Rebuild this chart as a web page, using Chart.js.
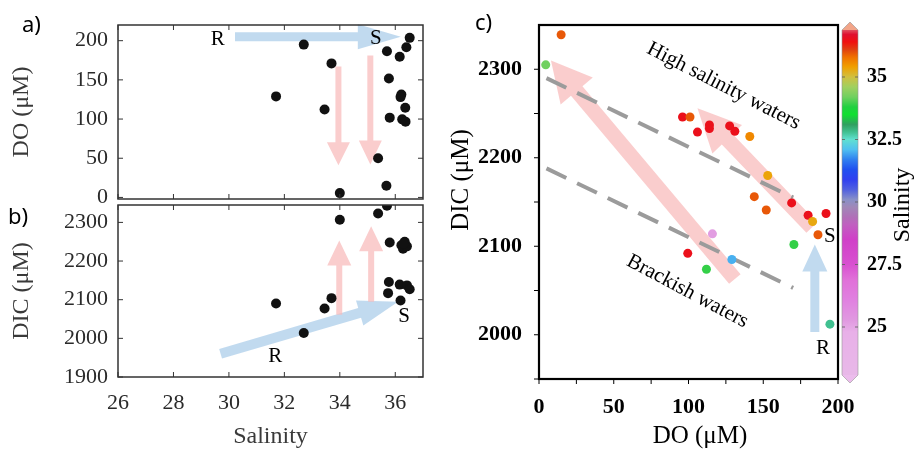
<!DOCTYPE html>
<html><head><meta charset="utf-8">
<script src="https://cdn.jsdelivr.net/npm/chart.js@4.4.1/dist/chart.umd.min.js"></script>
<style>
html,body{margin:0;padding:0;background:#fff;}
#wrap{position:relative;width:916px;height:449px;overflow:hidden;background:#fff;}
canvas{position:absolute;left:0;top:0;}
.lbl{position:absolute;font-family:"Noto Sans",sans-serif;font-size:22px;line-height:22px;color:#000;}
</style></head><body>
<div id="wrap">
<canvas id="ca" width="916" height="449"></canvas>
<canvas id="cb" width="916" height="449"></canvas>
<canvas id="cc" width="916" height="449"></canvas>
<canvas id="cbar" width="916" height="449"></canvas>
<div class="lbl" style="left:22px;top:12px;">a)</div>
<div class="lbl" style="left:8px;top:204px;">b)</div>
<div class="lbl" style="left:475px;top:10px;">c)</div>
</div>
<script>
// ---------- data ----------
// panel a: salinity vs DO
const salA = [31.7, 32.7, 33.7, 33.45, 34.0, 35.38, 35.68, 35.7, 35.77, 35.8, 36.16, 36.4, 36.52, 36.22, 36.19, 36.36, 36.25, 36.37];
const doA  = [128.9, 195, 171, 112.3, 5.5, 50, 14.8, 186.5, 151.8, 101.8, 179.4, 191.6, 203.6, 131.4, 128, 114.5, 99.6, 96.7];
// panel b: salinity vs DIC
const salB = [31.7, 32.7, 33.45, 33.7, 34.0, 35.38, 35.7, 35.8, 36.22, 36.34, 36.28, 36.42, 36.3, 35.77, 36.16, 36.42, 36.52, 35.74, 36.19];
const dicB = [2090, 2014, 2077, 2104, 2307, 2323, 2343, 2248, 2241, 2250, 2232, 2238, 2245, 2146, 2139, 2137, 2127, 2117, 2098];
// panel c: DO vs DIC coloured by salinity
const doC  = [14.8, 4.5, 96, 101, 106, 114, 114, 127.5, 131, 141, 153, 144, 152, 169, 180, 183, 192, 186.6, 116, 99.5, 129, 112, 170.5, 194.6];
const dicC = [2339, 2305, 2246, 2246, 2229, 2237, 2233, 2236, 2230, 2224, 2180, 2156, 2141, 2149, 2135, 2128, 2137, 2113, 2114, 2092, 2085, 2074, 2102, 2012];
const salC = [35.95, 34.2, 36.5, 35.95, 36.5, 36.5, 36.5, 36.5, 36.5, 35.6, 35.35, 35.95, 35.95, 36.5, 36.5, 35.3, 36.5, 35.95, 25.2, 36.5, 32.0, 33.9, 33.9, 32.8];
// mixing lines in panel c
const upperLineDO = [5, 170];
const upperLineDIC = [2290, 2155];
const lowerLineDO = [5, 170];
const lowerLineDIC = [2188, 2053];
// tick labels
const xTicksAB = [26, 28, 30, 32, 34, 36];
const yTicksA = [0, 50, 100, 150, 200];
const yTicksB = [1900, 2000, 2100, 2200, 2300];
const xTicksC = [0, 50, 100, 150, 200];
const yTicksC = [2000, 2100, 2200, 2300];
const xMinorC = [25, 75, 125, 175];
const yMinorC = [1950, 2050, 2150, 2250];
const cbTicks = [25, 27.5, 30, 32.5, 35];
// colour bar
const cbMin = 23.08, cbMax = 36.88;
const cmapVals = [23.08, 24.8, 25.3, 26.1, 26.9, 27.5, 28.5, 29.1, 29.4, 29.8, 30.1, 30.5, 30.9, 31.3, 31.7, 32.1, 32.5, 32.8, 33.1, 33.5, 33.8, 34.2, 34.6, 35.0, 35.4, 35.8, 36.1, 36.4, 36.7, 36.88];
const cmapCols = ['#e8b8e8','#e8b0e8','#e098e0','#e080e0','#e070d8','#d850d0','#d040c8','#c060c0','#b070b8','#a088b8','#8890c8','#5060e0','#3040f0','#2050f0','#3080f0','#50c0f0','#60e0d0','#40c090','#30a060','#10e030','#20d040','#70d060','#a0d060','#d0c040','#f0a000','#f07000','#e04010','#f01010','#e01030','#e05060'];

// ---------- helpers ----------
function hex2rgb(h){return [parseInt(h.slice(1,3),16),parseInt(h.slice(3,5),16),parseInt(h.slice(5,7),16)];}
function cmap(v){
  if (v <= cmapVals[0]) return cmapCols[0];
  for (let i = 1; i < cmapVals.length; i++) {
    if (v <= cmapVals[i]) {
      const t = (v - cmapVals[i-1]) / (cmapVals[i] - cmapVals[i-1]);
      const a = hex2rgb(cmapCols[i-1]), b = hex2rgb(cmapCols[i]);
      return 'rgb(' + a.map((c,k)=>Math.round(c + (b[k]-c)*t)).join(',') + ')';
    }
  }
  return cmapCols[cmapCols.length-1];
}
const SERIF = '"Liberation Serif", "Times New Roman", serif';
const PINK = 'rgba(248,186,186,0.72)';
const BLUE = 'rgba(190,216,238,0.95)';

function drawArrow(ctx, x1, y1, x2, y2, shaft, headW, headL, color){
  const ang = Math.atan2(y2-y1, x2-x1), len = Math.hypot(x2-x1, y2-y1);
  ctx.save(); ctx.translate(x1, y1); ctx.rotate(ang); ctx.fillStyle = color;
  ctx.beginPath();
  ctx.moveTo(0, -shaft/2); ctx.lineTo(len-headL, -shaft/2); ctx.lineTo(len-headL, -headW/2);
  ctx.lineTo(len, 0); ctx.lineTo(len-headL, headW/2); ctx.lineTo(len-headL, shaft/2); ctx.lineTo(0, shaft/2);
  ctx.closePath(); ctx.fill(); ctx.restore();
}

const arrowPlugin = {
  id: 'arrows',
  beforeDatasetsDraw(chart, args, opts){
    const {ctx, scales} = chart;
    (opts.items || []).forEach(a => {
      drawArrow(ctx, scales.x.getPixelForValue(a.from[0]), scales.y.getPixelForValue(a.from[1]),
        scales.x.getPixelForValue(a.to[0]), scales.y.getPixelForValue(a.to[1]), a.shaft, a.headW, a.headL, a.color);
    });
  }
};

const notePlugin = {
  id: 'notes',
  afterDraw(chart, args, opts){
    const {ctx, scales, chartArea} = chart;
    (opts.items || []).forEach(it => {
      let x, y;
      if (it.dx !== undefined) { x = scales.x.getPixelForValue(it.dx); y = scales.y.getPixelForValue(it.dy); }
      else { x = chartArea.left + it.ox; y = chartArea.top + it.oy; }
      ctx.save(); ctx.translate(x, y); ctx.rotate((it.rot || 0) * Math.PI/180);
      ctx.font = it.font || ('21px ' + SERIF); ctx.fillStyle = it.color || '#000';
      ctx.textAlign = 'center'; ctx.textBaseline = 'middle';
      ctx.fillText(it.text, 0, 0); ctx.restore();
    });
  }
};

const framePlugin = {
  id: 'frame',
  afterDatasetsDraw(chart, args, o){
    const {ctx, chartArea: {left, right, top, bottom}, scales} = chart;
    ctx.save();
    ctx.strokeStyle = o.color; ctx.lineWidth = o.width;
    ctx.strokeRect(left, top, right-left, bottom-top);
    ctx.lineWidth = o.tickWidth || 1;
    ctx.beginPath();
    const L = o.tickLen;
    (o.xt || []).forEach(v => {
      const x = scales.x.getPixelForValue(v);
      if (o.inward) { ctx.moveTo(x, bottom); ctx.lineTo(x, bottom-L); ctx.moveTo(x, top); ctx.lineTo(x, top+L); }
      else { ctx.moveTo(x, bottom); ctx.lineTo(x, bottom+L); }
    });
    (o.yt || []).forEach(v => {
      const y = scales.y.getPixelForValue(v);
      if (o.inward) { ctx.moveTo(left, y); ctx.lineTo(left+L, y); ctx.moveTo(right, y); ctx.lineTo(right-L, y); }
      else { ctx.moveTo(left, y); ctx.lineTo(left-L, y); }
    });
    ctx.stroke(); ctx.restore();
  }
};

function fixedTicks(vals){ return s => { s.ticks = vals.map(v => ({value: v})); }; }
function fixW(w){ return s => { s.width = w; s.paddingTop = 0; s.paddingBottom = 0; }; }
function fixH(h){ return s => { s.height = h; s.paddingLeft = 0; s.paddingRight = 0; }; }
const baseOpts = {responsive: false, animation: false, events: []};

// ---------- panel a ----------
new Chart(document.getElementById('ca'), {
  type: 'scatter',
  data: {datasets: [{data: salA.map((s,i)=>({x: s, y: doA[i]})), pointRadius: 5, pointBackgroundColor: '#111', pointBorderWidth: 0}]},
  options: Object.assign({}, baseOpts, {
    layout: {padding: {left: 0, top: 25, right: 493, bottom: 250}},
    plugins: {
      legend: {display: false}, tooltip: {enabled: false},
      frame: {color: '#333', width: 1.5, tickLen: 5, inward: true, xt: xTicksAB, yt: yTicksA},
      arrows: {items: [
        {from: [30.22, 205], to: [36.2, 205], shaft: 9, headW: 25, headL: 43, color: BLUE},
        {from: [33.95, 167], to: [33.95, 41], shaft: 6, headW: 23, headL: 23, color: PINK},
        {from: [35.1, 181], to: [35.1, 42], shaft: 6, headW: 23, headL: 24, color: PINK}
      ]},
      notes: {items: [
        {text: 'R', dx: 29.6, dy: 202},
        {text: 'S', dx: 35.3, dy: 202.7}
      ]}
    },
    scales: {
      x: {type: 'linear', min: 26, max: 37, display: false},
      y: {type: 'linear', min: -2, max: 220, afterFit: fixW(118), afterBuildTicks: fixedTicks(yTicksA),
          ticks: {font: {family: SERIF, size: 22}, color: '#2a2a2a', padding: 10, callback: v => String(v)},
          grid: {display: false, drawTicks: false}, border: {display: false},
          title: {display: true, text: 'DO (μM)', font: {family: SERIF, size: 24, lineHeight: 1}, color: '#3a3a3a', padding: {top: 10, bottom: 0}}}
    }
  }),
  plugins: [arrowPlugin, framePlugin, notePlugin]
});

// ---------- panel b ----------
new Chart(document.getElementById('cb'), {
  type: 'scatter',
  data: {datasets: [{data: salB.map((s,i)=>({x: s, y: dicB[i]})), pointRadius: 5, pointBackgroundColor: '#111', pointBorderWidth: 0}]},
  options: Object.assign({}, baseOpts, {
    layout: {padding: {left: 0, top: 205, right: 493, bottom: 0}},
    plugins: {
      legend: {display: false}, tooltip: {enabled: false},
      frame: {color: '#333', width: 1.5, tickLen: 5, inward: true, xt: xTicksAB, yt: yTicksB},
      arrows: {items: [
        {from: [29.7, 1960], to: [36.1, 2095], shaft: 10, headW: 26, headL: 40, color: BLUE},
        {from: [33.98, 2061], to: [33.98, 2253], shaft: 6, headW: 24, headL: 25, color: PINK},
        {from: [35.13, 2095], to: [35.13, 2290], shaft: 6, headW: 24, headL: 25, color: PINK}
      ]},
      notes: {items: [
        {text: 'R', dx: 31.67, dy: 1952},
        {text: 'S', dx: 36.32, dy: 2056}
      ]}
    },
    scales: {
      x: {type: 'linear', min: 26, max: 37, afterFit: fixH(72), afterBuildTicks: fixedTicks(xTicksAB),
          ticks: {font: {family: SERIF, size: 22}, color: '#2a2a2a', padding: 13, maxRotation: 0, autoSkip: false, callback: v => String(v)},
          grid: {display: false, drawTicks: false}, border: {display: false},
          title: {display: true, text: 'Salinity', font: {family: SERIF, size: 24, lineHeight: 1}, color: '#3a3a3a', padding: {top: 0, bottom: 0}}},
      y: {type: 'linear', min: 1900, max: 2345, afterFit: fixW(118), afterBuildTicks: fixedTicks(yTicksB),
          ticks: {font: {family: SERIF, size: 22}, color: '#2a2a2a', padding: 10, callback: v => String(v)},
          grid: {display: false, drawTicks: false}, border: {display: false},
          title: {display: true, text: 'DIC (μM)', font: {family: SERIF, size: 24, lineHeight: 1}, color: '#3a3a3a', padding: {top: 10, bottom: 0}}}
    }
  }),
  plugins: [arrowPlugin, framePlugin, notePlugin]
});

// ---------- panel c ----------
const dashed = {showLine: true, pointRadius: 0, borderColor: '#9b9b9b', borderWidth: 4, borderDash: [22, 12], borderCapStyle: 'butt', tension: 0};
new Chart(document.getElementById('cc'), {
  type: 'scatter',
  data: {datasets: [
    {data: doC.map((d,i)=>({x: d, y: dicC[i]})), pointRadius: 4.5, pointBorderWidth: 0, pointBackgroundColor: salC.map(cmap)},
    Object.assign({data: upperLineDO.map((d,i)=>({x: d, y: upperLineDIC[i]}))}, dashed),
    Object.assign({data: lowerLineDO.map((d,i)=>({x: d, y: lowerLineDIC[i]}))}, dashed)
  ]},
  options: Object.assign({}, baseOpts, {
    layout: {padding: {left: 440, top: 25, right: 78, bottom: 0}},
    plugins: {
      legend: {display: false}, tooltip: {enabled: false},
      frame: {color: '#000', width: 2.2, tickLen: 5, tickWidth: 1, inward: false, xt: xTicksC.concat(xMinorC), yt: yTicksC.concat(yMinorC)},
      arrows: {items: [
        {from: [131, 2063], to: [8, 2310], shaft: 15, headW: 42, headL: 40, color: PINK},
        {from: [182.5, 2121], to: [106, 2256], shaft: 15, headW: 41, headL: 43, color: PINK},
        {from: [184.5, 2003], to: [184.5, 2102], shaft: 9, headW: 25, headL: 27, color: BLUE}
      ]},
      notes: {items: [
        {text: 'High salinity waters', dx: 123.5, dy: 2281, rot: 27},
        {text: 'Brackish waters', dx: 99.3, dy: 2049, rot: 28},
        {text: 'S', dx: 194.6, dy: 2111},
        {text: 'R', dx: 190, dy: 1984},
        {text: 'DIC (μM)', ox: -78, oy: 155, rot: -90, font: '25px ' + SERIF},
        {text: 'DO (μM)', ox: 161, oy: 411, font: '25px ' + SERIF}
      ]}
    },
    scales: {
      x: {type: 'linear', min: 0, max: 200, afterFit: fixH(70), afterBuildTicks: fixedTicks(xTicksC),
          ticks: {font: {family: SERIF, size: 22, weight: 'bold'}, color: '#000', padding: 15, maxRotation: 0, autoSkip: false, callback: v => String(v)},
          grid: {display: false, drawTicks: false}, border: {display: false}},
      y: {type: 'linear', min: 1950, max: 2350, afterFit: fixW(99), afterBuildTicks: fixedTicks(yTicksC),
          ticks: {font: {family: SERIF, size: 22, weight: 'bold'}, color: '#000', padding: 17, callback: v => String(v)},
          grid: {display: false, drawTicks: false}, border: {display: false}}
    }
  }),
  plugins: [arrowPlugin, framePlugin, notePlugin]
});

// ---------- colour bar ----------
const cbarPlugin = {
  id: 'cbarDeco',
  afterDatasetsDraw(chart){
    const {ctx, chartArea: {left, right, top, bottom}, scales} = chart;
    const mid = (left + right) / 2;
    ctx.save();
    ctx.fillStyle = '#f2a488';
    ctx.beginPath(); ctx.moveTo(left, top); ctx.lineTo(mid, top - 8); ctx.lineTo(right, top); ctx.closePath(); ctx.fill();
    ctx.fillStyle = '#ecbcec';
    ctx.beginPath(); ctx.moveTo(left, bottom); ctx.lineTo(mid, bottom + 8); ctx.lineTo(right, bottom); ctx.closePath(); ctx.fill();
    ctx.strokeStyle = 'rgba(150,150,150,0.6)'; ctx.lineWidth = 1;
    ctx.beginPath(); ctx.moveTo(left, top); ctx.lineTo(mid, top - 8); ctx.lineTo(right, top); ctx.lineTo(right, bottom);
    ctx.lineTo(mid, bottom + 8); ctx.lineTo(left, bottom); ctx.closePath(); ctx.stroke();
    ctx.strokeStyle = 'rgba(90,90,90,0.8)';
    ctx.beginPath();
    cbTicks.forEach(v => { const y = scales.y.getPixelForValue(v);
      ctx.moveTo(left, y); ctx.lineTo(left + 3, y); ctx.moveTo(right, y); ctx.lineTo(right - 3, y); });
    ctx.stroke();
    ctx.translate(903, 205); ctx.rotate(-Math.PI/2);
    ctx.font = '24px ' + SERIF; ctx.fillStyle = '#000'; ctx.textAlign = 'center'; ctx.textBaseline = 'middle';
    ctx.fillText('Salinity', 0, 0);
    ctx.restore();
  }
};
new Chart(document.getElementById('cbar'), {
  type: 'bar',
  data: {labels: ['Salinity'], datasets: [{
    data: [[cbMin, cbMax]], barPercentage: 1, categoryPercentage: 1, borderWidth: 0,
    backgroundColor: (c) => {
      const ch = c.chart; if (!ch.chartArea) return '#ccc';
      const ys = ch.scales.y;
      const g = ch.ctx.createLinearGradient(0, ys.getPixelForValue(cbMin), 0, ys.getPixelForValue(cbMax));
      cmapVals.forEach((v, i) => g.addColorStop((v - cbMin) / (cbMax - cbMin), cmapCols[i]));
      return g;
    }
  }]},
  options: Object.assign({}, baseOpts, {
    layout: {padding: {left: 842, top: 30, right: 4, bottom: 74}},
    plugins: {legend: {display: false}, tooltip: {enabled: false}},
    scales: {
      x: {display: false},
      y: {position: 'right', min: cbMin, max: cbMax, afterFit: fixW(54), afterBuildTicks: fixedTicks(cbTicks),
          ticks: {font: {family: SERIF, size: 20, weight: 'bold'}, color: '#000', padding: 9, callback: v => String(v)},
          grid: {display: false, drawTicks: false}, border: {display: false}}
    }
  }),
  plugins: [cbarPlugin]
});
</script>
</body></html>
